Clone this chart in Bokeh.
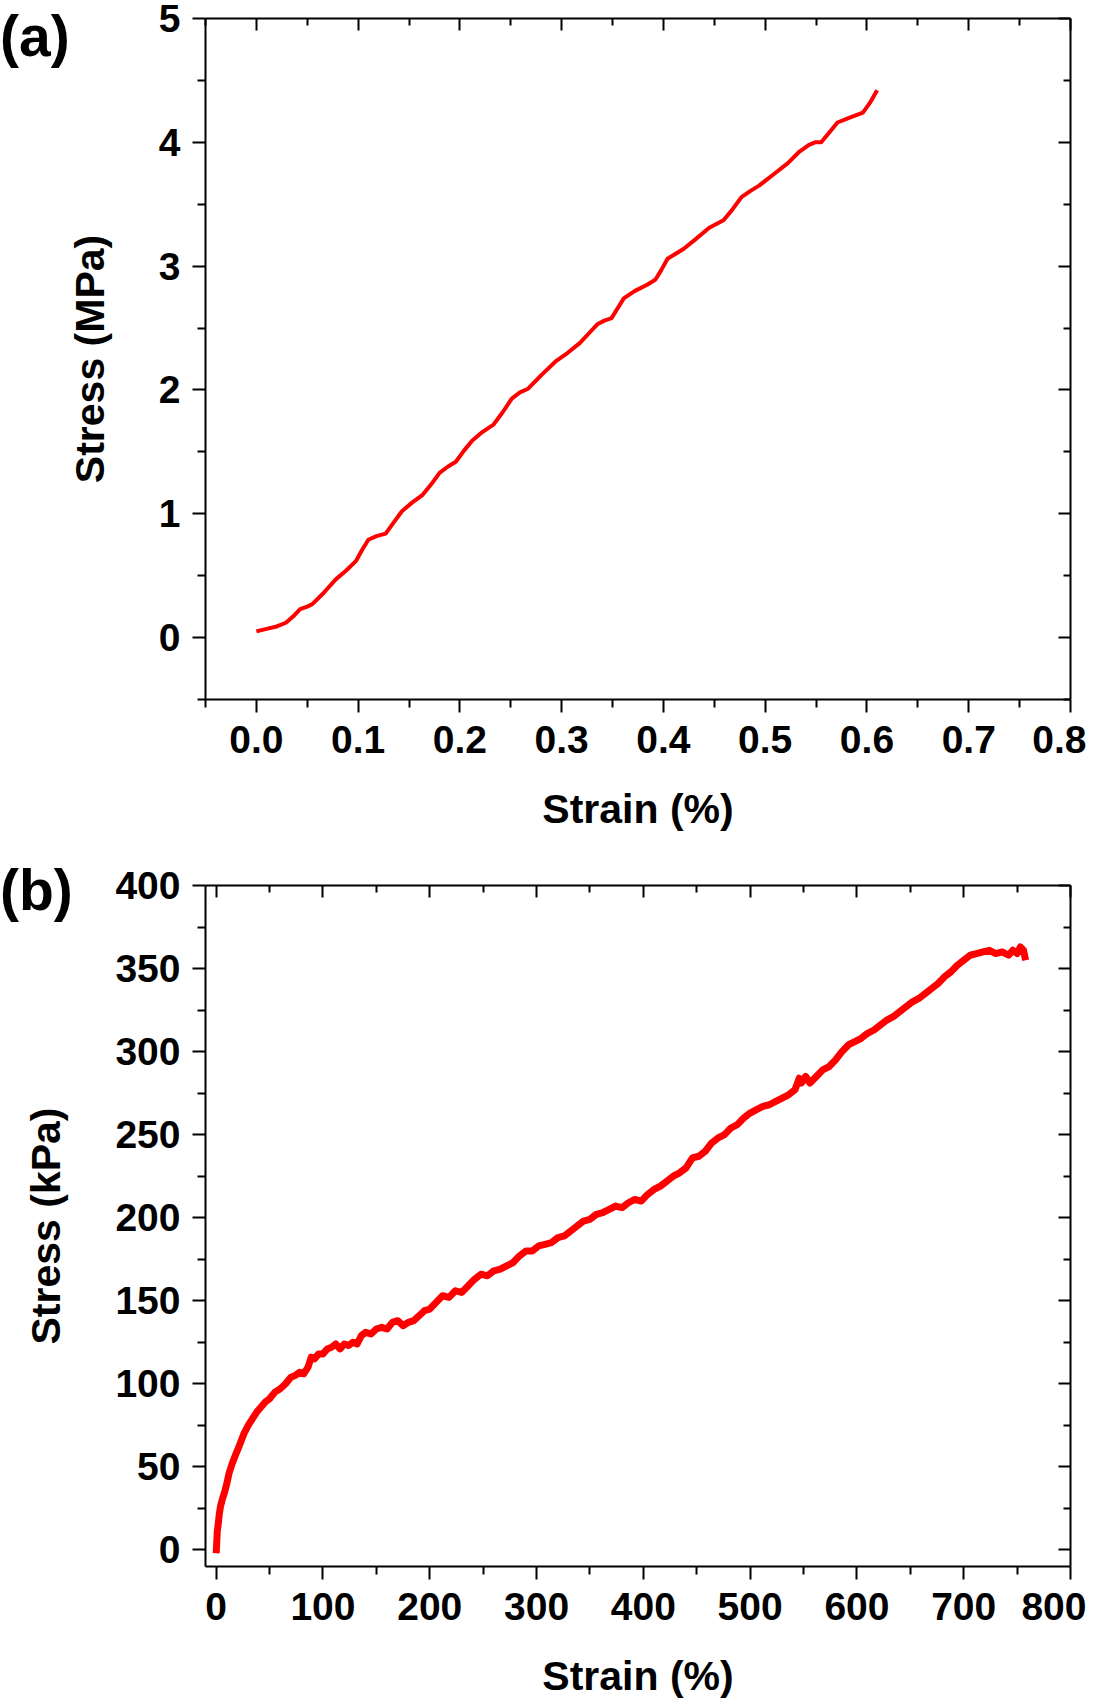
from bokeh.plotting import figure
from bokeh.models import LinearAxis, FixedTicker, Range1d, Div
from bokeh.layouts import column
from bokeh.embed import file_html
from bokeh.resources import INLINE

# ---- panel (a) data ----
a_strain = [0.000, 0.010, 0.020, 0.029, 0.036, 0.043, 0.050, 0.055, 0.066, 0.078,
            0.088, 0.098, 0.104, 0.110, 0.118, 0.127, 0.135, 0.143, 0.153, 0.163,
            0.172, 0.180, 0.188, 0.196, 0.204, 0.212, 0.222, 0.233, 0.242, 0.251,
            0.259, 0.267, 0.280, 0.294, 0.306, 0.318, 0.327, 0.335, 0.342, 0.349,
            0.355, 0.361, 0.372, 0.384, 0.392, 0.398, 0.404, 0.412, 0.420, 0.432,
            0.445, 0.452, 0.459, 0.468, 0.477, 0.486, 0.494, 0.508, 0.522, 0.533,
            0.543, 0.549, 0.555, 0.563, 0.571, 0.583, 0.596, 0.603, 0.610]
a_stress = [0.05, 0.07, 0.09, 0.12, 0.17, 0.23, 0.25, 0.27, 0.36, 0.47,
            0.54, 0.62, 0.71, 0.79, 0.82, 0.84, 0.93, 1.02, 1.09, 1.15,
            1.24, 1.33, 1.38, 1.42, 1.51, 1.59, 1.66, 1.72, 1.82, 1.93,
            1.98, 2.01, 2.12, 2.23, 2.30, 2.38, 2.46, 2.53, 2.56, 2.58,
            2.66, 2.74, 2.80, 2.85, 2.89, 2.97, 3.06, 3.10, 3.14, 3.22,
            3.31, 3.34, 3.37, 3.46, 3.56, 3.61, 3.65, 3.74, 3.83, 3.92,
            3.98, 4.00, 4.00, 4.08, 4.16, 4.20, 4.24, 4.32, 4.42]

a_xticks = [0.0, 0.1, 0.2, 0.3, 0.4, 0.5, 0.6, 0.7, 0.8]
a_xlabels = ["0.0", "0.1", "0.2", "0.3", "0.4", "0.5", "0.6", "0.7", "0.8"]
a_xminor = [-0.05, 0.05, 0.15, 0.25, 0.35, 0.45, 0.55, 0.65, 0.75]
a_yticks = [0, 1, 2, 3, 4, 5]
a_ylabels = ["0", "1", "2", "3", "4", "5"]
a_yminor = [-0.5, 0.5, 1.5, 2.5, 3.5, 4.5]

# ---- panel (b) data ----
b_strain = [0, 0.5, 1, 2, 3, 4, 6, 8, 10, 12,
            15, 18, 20, 23, 26, 30, 34, 38, 42, 46,
            50, 55, 60, 65, 70, 74, 78, 82, 86, 89,
            92, 96, 100, 104, 108, 112, 116, 120, 124, 128,
            132, 136, 140, 145, 150, 155, 160, 165, 170, 175,
            180, 185, 190, 195, 200, 206, 212, 218, 224, 230,
            236, 242, 248, 254, 260, 266, 272, 278, 284, 290,
            296, 302, 308, 314, 320, 326, 332, 338, 344, 350,
            356, 362, 368, 374, 380, 386, 392, 398, 404, 410,
            416, 422, 428, 434, 440, 446, 452, 458, 464, 470,
            476, 482, 488, 494, 500, 506, 512, 518, 524, 530,
            536, 542, 546, 548, 552, 556, 562, 568, 574, 580,
            586, 592, 598, 604, 610, 616, 622, 628, 634, 640,
            646, 652, 658, 664, 670, 676, 682, 688, 694, 700,
            706, 712, 718, 724, 730, 736, 742, 746, 750, 753,
            756, 758]
b_stress = [-2, 4, 11, 16, 22, 26, 31, 35, 40, 46,
            52, 57, 60, 65, 70, 75, 79, 83, 86, 89,
            91, 95, 97, 100, 104, 105, 107, 106, 110, 116,
            115, 118, 118, 121, 122, 124, 121, 124, 123, 125,
            124, 129, 131, 130, 133, 134, 133, 137, 138, 135,
            137, 138, 141, 144, 145, 149, 153, 152, 156, 155,
            159, 163, 166, 165, 168, 169, 171, 173, 177, 180,
            180, 183, 184, 185, 188, 189, 192, 195, 198, 199,
            202, 203, 205, 207, 206, 209, 211, 210, 214, 217,
            219, 222, 225, 227, 230, 236, 237, 240, 245, 248,
            250, 254, 256, 260, 263, 265, 267, 268, 270, 272,
            274, 277, 284, 281, 285, 281, 285, 289, 291, 295,
            300, 304, 306, 308, 311, 313, 316, 319, 321, 324,
            327, 330, 332, 335, 338, 341, 345, 348, 352, 355,
            358, 359, 360, 361, 359, 360, 358, 361, 359, 363,
            361, 355]

b_xticks = [0, 100, 200, 300, 400, 500, 600, 700, 800]
b_xlabels = ["0", "100", "200", "300", "400", "500", "600", "700", "800"]
b_xminor = [50, 150, 250, 350, 450, 550, 650, 750]
b_yticks = [0, 50, 100, 150, 200, 250, 300, 350, 400]
b_ylabels = ["0", "50", "100", "150", "200", "250", "300", "350", "400"]
b_yminor = [25, 75, 125, 175, 225, 275, 325, 375]

panel_tags = ["(a)", "(b)"]

FONT = "Liberation Sans"
RED = "#ff0000"


def style_main_axis(ax, labels_map):
    ax.axis_line_width = 2
    ax.major_tick_line_width = 2
    ax.minor_tick_line_width = 2
    ax.major_tick_out = 13
    ax.major_tick_in = 0
    ax.minor_tick_out = 8
    ax.minor_tick_in = 0
    ax.major_label_text_font = FONT
    ax.major_label_text_font_style = "bold"
    ax.major_label_text_font_size = "39px"
    ax.major_label_text_color = "black"
    ax.axis_label_text_font = FONT
    ax.axis_label_text_font_style = "bold"
    ax.axis_label_text_font_size = "41px"
    ax.axis_label_text_color = "black"
    ax.major_label_overrides = labels_map


def mirror_axis(ticker):
    ax = LinearAxis(ticker=ticker)
    ax.axis_line_width = 2
    ax.major_tick_line_width = 2
    ax.minor_tick_line_width = 2
    ax.major_tick_in = 12
    ax.major_tick_out = 0
    ax.minor_tick_in = 7
    ax.minor_tick_out = 0
    ax.major_label_text_font_size = "1px"
    ax.major_label_text_color = None
    ax.major_label_standoff = 0
    return ax


def make_panel(xr, yr, xt, xl, xm, yt, yl, ym, xs, ys, lw, xtitle, ytitle,
               top, bottom):
    p = figure(frame_width=865, frame_height=681,
               x_range=Range1d(*xr), y_range=Range1d(*yr),
               output_backend="svg", toolbar_location=None,
               min_border_left=205, min_border_right=16,
               min_border_top=top, min_border_bottom=bottom)
    p.xgrid.visible = False
    p.ygrid.visible = False
    p.outline_line_color = None
    p.background_fill_color = "white"
    p.border_fill_color = "white"

    xticker = FixedTicker(ticks=xt, minor_ticks=xm)
    yticker = FixedTicker(ticks=yt, minor_ticks=ym)
    p.xaxis.ticker = xticker
    p.yaxis.ticker = yticker
    style_main_axis(p.xaxis[0], {t: s for t, s in zip(xt, xl)})
    style_main_axis(p.yaxis[0], {t: s for t, s in zip(yt, yl)})
    p.xaxis.axis_label = xtitle
    p.yaxis.axis_label = ytitle
    p.xaxis.major_label_standoff = 13
    p.yaxis.major_label_standoff = 12
    p.xaxis.axis_label_standoff = 30
    p.yaxis.axis_label_standoff = 43

    p.add_layout(mirror_axis(xticker), "above")
    p.add_layout(mirror_axis(yticker), "right")

    p.line(xs, ys, line_color=RED, line_width=lw, line_join="round")
    return p


pa = make_panel((-0.05, 0.8), (-0.5, 5), a_xticks, a_xlabels, a_xminor,
                a_yticks, a_ylabels, a_yminor, a_strain, a_stress, 4,
                "Strain (%)", "Stress (MPa)", 18, 150)

pb = make_panel((-10, 800), (-10, 400), b_xticks, b_xlabels, b_xminor,
                b_yticks, b_ylabels, b_yminor, b_strain, b_stress, 7,
                "Strain (%)", "Stress (kPa)", 36, 131)


def tag_div(text, top):
    span = ("<span style=\"font-family:'Liberation Sans';font-weight:bold;"
            "font-size:57px;line-height:56px;color:black;white-space:nowrap\">"
            + text + "</span>")
    return Div(text=span, styles={"position": "absolute", "left": "0px",
                                  "top": f"{top}px", "line-height": "56px",
                                  "margin": "0px", "padding": "0px"})


div_a = tag_div(panel_tags[0], 8)
div_b = tag_div(panel_tags[1], 862)

layout = column(pa, pb, div_a, div_b, spacing=0,
                styles={"position": "relative"})
open("out.html", "w").write(file_html(layout, INLINE))
